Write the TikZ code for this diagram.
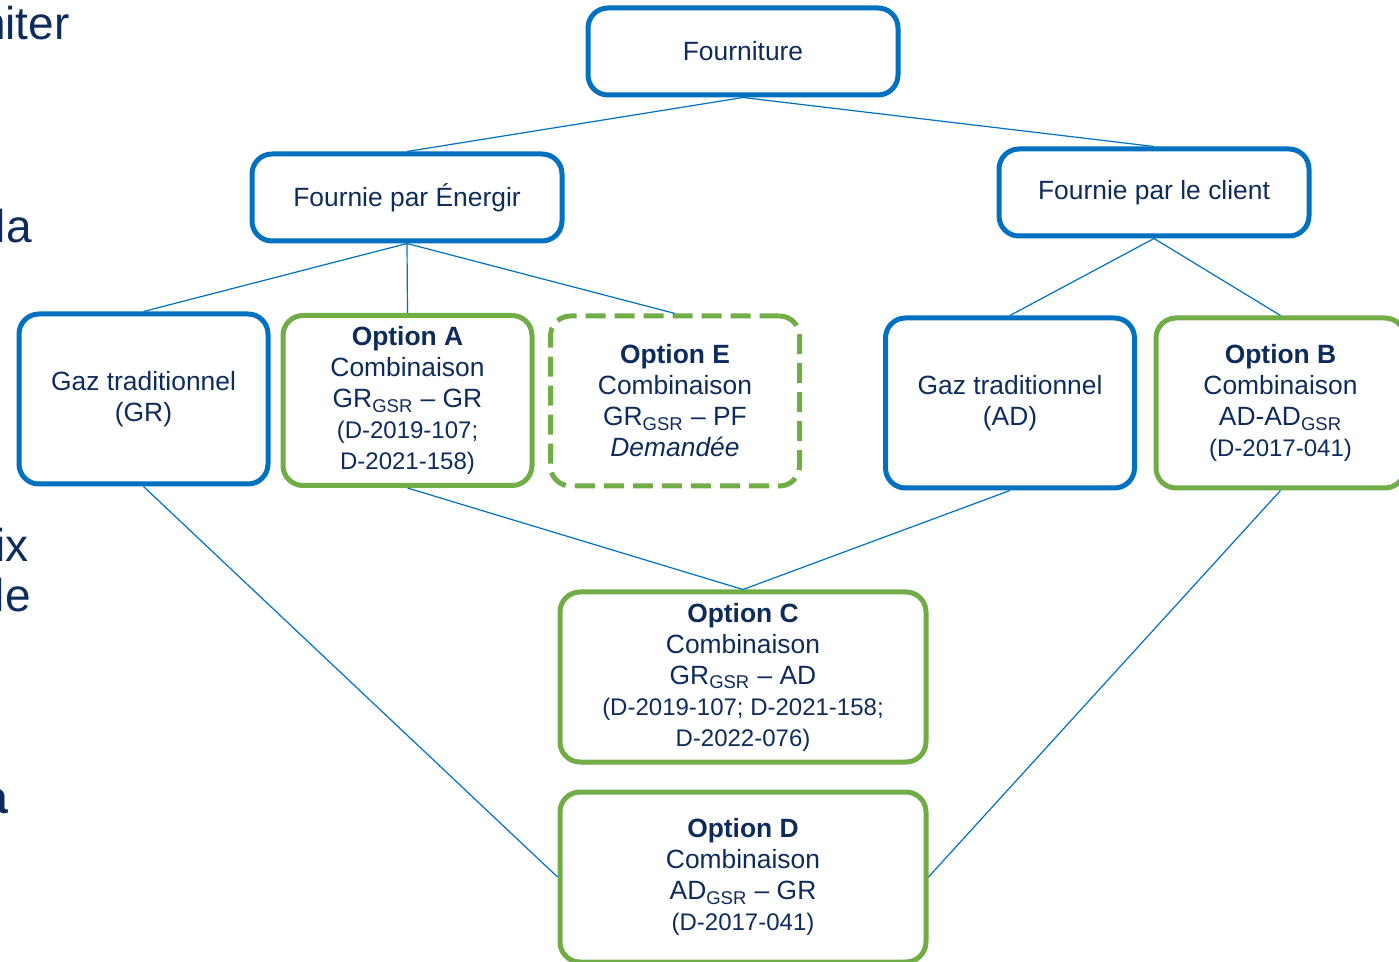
\documentclass[tikz,border=0pt]{standalone}
\usepackage{fontspec}
\setmainfont{Liberation Sans}
\usetikzlibrary{positioning}
\definecolor{bleu}{HTML}{0070C0}
\definecolor{vert}{HTML}{70AD47}
\definecolor{marine}{HTML}{0E2C5B}
\tikzstyle{bluebox} = [draw=bleu, line width=2.5pt, fill=white,
    rectangle, rounded corners=10pt, inner sep=0pt, text=marine,
    align=center, font=\fontsize{13.2}{15.5}\selectfont]
\tikzstyle{greenbox} = [bluebox, draw=vert]
\tikzstyle{optbox} = [minimum width=124.5pt, minimum height=85pt]
\tikzstyle{widebox} = [minimum width=183pt, minimum height=85pt]
\tikzstyle{headbox} = [minimum width=155pt, minimum height=43.5pt]
\tikzstyle{link} = [draw=bleu, line width=0.6pt]
\tikzstyle{slidetext} = [text=marine, inner sep=0pt, font=\fontsize{23}{28}\selectfont]
\newcommand{\gsr}{\textsubscript{GSR}}
\newcommand{\refsize}{\fontsize{12}{14.5}\selectfont}
\begin{document}
\begin{tikzpicture}[x=0.5pt, y=-0.5pt]
\useasboundingbox (0,0) rectangle (1399,962);
\clip (0,0) rectangle (1399,962);
\node[slidetext, anchor=base east] (t1) at (70,40) {niter};
\node[slidetext, anchor=base east] (t2) at (32,243) {la};
\node[slidetext, anchor=base east] (t3) at (29,562) {ix};
\node[slidetext, anchor=base east] (t4) at (31,612) {le};
\node[slidetext, anchor=base east, font=\fontsize{23}{28}\selectfont\bfseries] (t5) at (8,813) {a};

\node[bluebox, headbox] (fourniture) at (743,51.5) {Fourniture};
\node[bluebox, headbox] (energir) at (407,197.5) {Fournie par Énergir};
\node[bluebox, headbox] (client) at (1154,192.5) {Fournie par le client};

\node[bluebox, optbox] (gazgr) at (143.5,399) {Gaz traditionnel\\(GR)};
\node[greenbox, optbox] (optA) at (407.5,400.5) {\textbf{Option A}\\Combinaison\\GR\gsr{} – GR\\{\refsize (D-2019-107;}\\{\refsize D-2021-158)}};
\node[greenbox, optbox, dash pattern=on 10pt off 4.5pt] (optE) at (675,401) {\textbf{Option E}\\Combinaison\\GR\gsr{} – PF\\\textit{Demandée}};
\node[bluebox, optbox] (gazad) at (1010,403) {Gaz traditionnel\\(AD)};
\node[greenbox, optbox] (optB) at (1280.5,403) {\textbf{Option B}\\Combinaison\\AD-AD\gsr\\{\refsize (D-2017-041)}};

\node[greenbox, widebox] (optC) at (743,677) {\textbf{Option C}\\Combinaison\\GR\gsr{} – AD\\{\refsize (D-2019-107; D-2021-158;}\\{\refsize D-2022-076)}};
\node[greenbox, widebox] (optD) at (743,877) {\textbf{Option D}\\Combinaison\\AD\gsr{} – GR\\{\refsize (D-2017-041)}};

\draw[link] (fourniture.south) -- (energir.north);
\draw[link] (fourniture.south) -- (client.north);
\draw[link] (energir.south) -- (gazgr.north);
\draw[link] (energir.south) -- (optA.north);
\draw[link] (energir.south) -- (optE.north);
\draw[link] (client.south) -- (gazad.north);
\draw[link] (client.south) -- (optB.north);
\draw[link] (optA.south) -- (optC.north);
\draw[link] (gazad.south) -- (optC.north);
\draw[link] (gazgr.south) -- (optD.west);
\draw[link] (optB.south) -- (optD.east);
\end{tikzpicture}
\end{document}
